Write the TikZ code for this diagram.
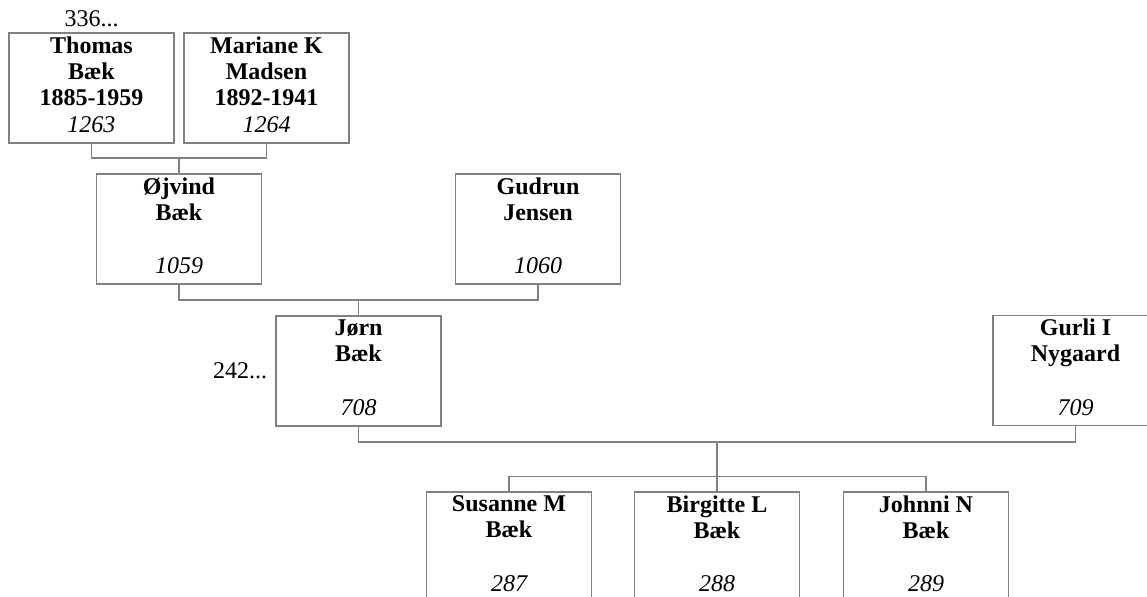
\documentclass[tikz,border=0pt]{standalone}
\usepackage{fontspec}
\setmainfont{Liberation Serif}
\usetikzlibrary{positioning}
\definecolor{boxborder}{HTML}{808080}
\definecolor{linkgray}{HTML}{808080}
\newcommand{\treefont}{\fontsize{12}{13}\selectfont}
\tikzset{
    person/.style={
        rectangle, draw=boxborder, line width=0.6pt,
        minimum width=82.5pt, minimum height=55pt, inner sep=0pt
    },
    person name/.style={
        font=\treefont\bfseries, align=center, inner sep=0pt
    },
    person id/.style={
        font=\treefont\itshape, inner sep=0pt
    },
    more ref/.style={
        font=\treefont, inner sep=0pt
    },
    link/.style={
        draw=linkgray, line width=0.6pt
    },
}

\begin{document}
\begin{tikzpicture}[x=0.5pt, y=-0.5pt]
    \path[use as bounding box, clip] (0,0) rectangle (1147,596);

    % grandparents
    \node[person] (thomas) at (91.5,88) {};
    \node[person] (mariane) at (266.5,88) {};
    % parents
    \node[person] (ojvind) at (179,229) {};
    \node[person] (gudrun) at (538,229) {};
    % couple
    \node[person] (jorn) at (358.5,371) {};
    \node[person] (gurli) at (1075.5,370.5) {};
    % children
    \node[person] (susanne) at (509,547) {};
    \node[person] (birgitte) at (717,547) {};
    \node[person] (johnni) at (926,547) {};

    \node[person name, below=2pt of thomas.north] {Thomas\\Bæk\\1885-1959};
    \node[person name, below=2pt of mariane.north] {Mariane K\\Madsen\\1892-1941};
    \node[person name, below=2pt of ojvind.north] {Øjvind\\Bæk};
    \node[person name, below=2pt of gudrun.north] {Gudrun\\Jensen};
    \node[person name, below=2pt of jorn.north] {Jørn\\Bæk};
    \node[person name, below=2pt of gurli.north] {Gurli I\\Nygaard};
    \node[person name, below=2pt of susanne.north] {Susanne M\\Bæk};
    \node[person name, below=2pt of birgitte.north] {Birgitte L\\Bæk};
    \node[person name, below=2pt of johnni.north] {Johnni N\\Bæk};

    \node[person id, above=5pt of thomas.south, anchor=south] (id1263) {1263};
    \node[person id, above=5pt of mariane.south, anchor=south] (id1264) {1264};
    \node[person id, above=5pt of ojvind.south, anchor=south] (id1059) {1059};
    \node[person id, above=5pt of gudrun.south, anchor=south] (id1060) {1060};
    \node[person id, above=5pt of jorn.south, anchor=south] (id708) {708};
    \node[person id, above=5pt of gurli.south, anchor=south] (id709) {709};
    \node[person id, above=5pt of susanne.south, anchor=south] (id287) {287};
    \node[person id, above=5pt of birgitte.south, anchor=south] (id288) {288};
    \node[person id, above=5pt of johnni.south, anchor=south] (id289) {289};

    \node[more ref, above=2.5pt of thomas.north] (more336) {336...};
    \node[more ref, left=4pt of jorn] (more242) {242...};

    % family lines
    \coordinate (fam1) at (179,158);
    \coordinate (fam2) at (358.5,300);
    \coordinate (fam3) at (717,442);
    \coordinate (kids) at (717,476.5);

    \draw[link] (thomas.south) |- (fam1) -| (mariane.south);
    \draw[link] (fam1) -- (ojvind.north);
    \draw[link] (ojvind.south) |- (fam2) -| (gudrun.south);
    \draw[link] (fam2) -- (jorn.north);
    \draw[link] (jorn.south) |- (fam3) -| (gurli.south);
    \draw[link] (fam3) -- (birgitte.north);
    \draw[link] (susanne.north) |- (kids) -| (johnni.north);
\end{tikzpicture}
\end{document}
